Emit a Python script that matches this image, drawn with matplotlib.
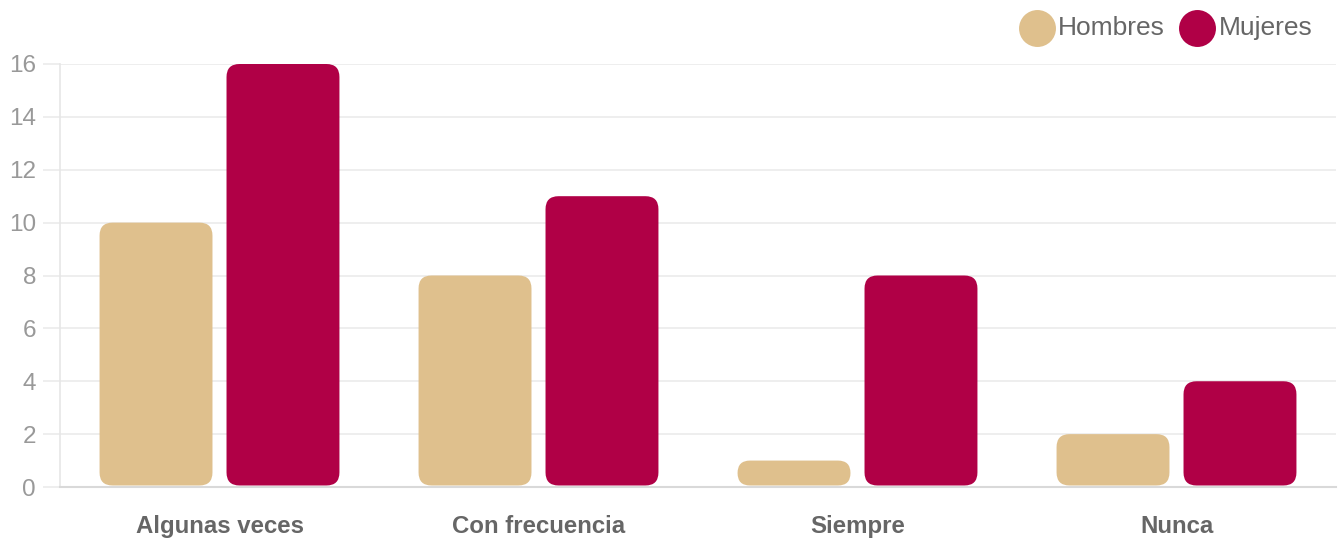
import matplotlib.pyplot as plt
import numpy as np
from matplotlib.patches import FancyBboxPatch
from matplotlib.lines import Line2D

plt.rcParams['font.family'] = ['Liberation Sans', 'DejaVu Sans']

categories = ["Algunas veces", "Con frecuencia", "Siempre", "Nunca"]
hombres = [10, 8, 1, 2]
mujeres = [16, 11, 8, 4]
series_names = ["Hombres", "Mujeres"]
colors = ["#DFC08D", "#B00046"]

W, H = 1338, 540
fig = plt.figure(figsize=(W / 100, H / 100), dpi=100)
ax_left, ax_right = 60, 1336
ax_top, ax_bottom = 64, 487
ax = fig.add_axes([ax_left / W, 1 - ax_bottom / H, (ax_right - ax_left) / W, (ax_bottom - ax_top) / H])

x = np.arange(len(categories))
width = 0.354
offset = 0.199

ax.set_xlim(-0.5, len(categories) - 0.5)
ax.set_ylim(0, 16)

# pixel size of one data unit on each axis, for the rounded corners
px_x = (ax_right - ax_left) / len(categories)
px_y = (ax_bottom - ax_top) / 16
radius_px = 13
gap = 1.5 / px_y

for vals, off, col in [(hombres, -offset, colors[0]), (mujeres, offset, colors[1])]:
    bars = ax.bar(x + off, vals, width, color=col)
    for b in bars:
        b.set_visible(False)
        h = b.get_height() - gap
        r = min(radius_px, h * px_y / 2) / px_x
        p = FancyBboxPatch((b.get_x(), gap), b.get_width(), h,
                           boxstyle="round,pad=0,rounding_size=%f" % r,
                           mutation_aspect=px_x / px_y,
                           facecolor=col, edgecolor="none", zorder=3)
        ax.add_patch(p)

ax.set_yticks(range(0, 17, 2))
ax.grid(axis="y", color="#ebebeb", linewidth=1.2, zorder=0)
ax.tick_params(axis="y", length=12.2, color="#ebebeb", width=1.2, labelsize=17.5,
               labelcolor="#999999", pad=5)
ax.set_xticks(x)
ax.set_xticklabels(categories, fontsize=17.3, fontweight="bold", color="#666666")
ax.tick_params(axis="x", length=0, pad=20)

for s in ["top", "right"]:
    ax.spines[s].set_visible(False)
ax.spines["left"].set_color("#e6e6e6")
ax.spines["left"].set_linewidth(1.2)
ax.spines["bottom"].set_color("#d9d9d9")
ax.spines["bottom"].set_linewidth(1.5)

# legend drawn by hand: circle + label, top right
leg_y = 1 - 28 / H
for name, col, cx, tx in zip(series_names, colors, [1037, 1197], [1058, 1219]):
    fig.add_artist(Line2D([cx / W], [leg_y], marker="o", markersize=26.6,
                          markerfacecolor=col, markeredgecolor="none",
                          linestyle="none", transform=fig.transFigure))
    fig.text(tx / W, leg_y, name, fontsize=19, color="#666666",
             ha="left", va="center")

fig.savefig("out.png", dpi=100)
